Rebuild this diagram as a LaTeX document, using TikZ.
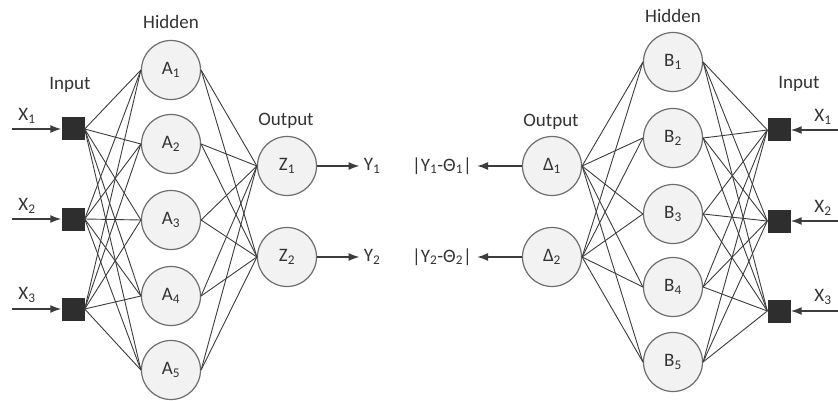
\documentclass[tikz,border=0pt]{standalone}
\usepackage{fontspec}
\setmainfont{Carlito}
\usetikzlibrary{arrows.meta}
\definecolor{linec}{HTML}{3C3C3C}
\definecolor{txtc}{HTML}{333333}
\definecolor{nodef}{HTML}{F2F2F2}
\definecolor{noded}{HTML}{6E6E6E}
\begin{document}
\begin{tikzpicture}[x=1pt,y=-1pt,
  neuron/.style={circle,draw=noded,fill=nodef,line width=1.2pt,minimum size=59pt,inner sep=0pt,text=txtc,font=\fontsize{19}{21}\selectfont},
  inbox/.style={rectangle,fill=black!82,minimum size=23pt,inner sep=0pt},
  lab/.style={text=txtc,font=\fontsize{19}{21}\selectfont,inner sep=0pt},
  conn/.style={draw=linec,line width=0.9pt},
  arr/.style={draw=linec,line width=1.6pt,-{Latex[length=11pt,width=8pt]}}]
\useasboundingbox (0,0) rectangle (838,401);
% ---------- left network ----------
\node[inbox] (i1) at (73,129) {};
\node[inbox] (i2) at (73,219) {};
\node[inbox] (i3) at (73,309) {};
\foreach \k/\y in {1/70,2/144,3/220,4/296,5/370}
  \node[neuron] (a\k) at (171,\y) {A\textsubscript{\k}};
\node[neuron] (z1) at (287,166) {Z\textsubscript{1}};
\node[neuron] (z2) at (287,257) {Z\textsubscript{2}};
\foreach \i in {1,2,3}
  \foreach \k in {1,...,5}
    \draw[conn] (i\i.east) -- (a\k.west);
\foreach \k in {1,...,5}
  \foreach \j in {1,2}
    \draw[conn] (a\k.east) -- (z\j.west);
\coordinate (xs1) at (12,129);
\coordinate (xs2) at (12,219);
\coordinate (xs3) at (12,309);
\foreach \i in {1,2,3} \draw[arr] (xs\i) -- (i\i.west);
\node[lab] (xl1) at (27,116) {X\textsubscript{1}};
\node[lab] (xl2) at (27,206) {X\textsubscript{2}};
\node[lab] (xl3) at (27,295) {X\textsubscript{3}};
\node[lab] (y1) at (372,166) {Y\textsubscript{1}};
\node[lab] (y2) at (372,257) {Y\textsubscript{2}};
\draw[arr] (z1.east) -- ([xshift=-4pt]y1.west);
\draw[arr] (z2.east) -- ([xshift=-4pt]y2.west);
\node[lab] (hl) at (171,22) {Hidden};
\node[lab] (il) at (70,85) {Input};
\node[lab] (ol) at (286,121) {Output};
% ---------- right network ----------
\node[inbox] (j1) at (779,130) {};
\node[inbox] (j2) at (779,221) {};
\node[inbox] (j3) at (779,311) {};
\foreach \k/\y in {1/62,2/138,3/214,4/287,5/362}
  \node[neuron] (b\k) at (673,\y) {B\textsubscript{\k}};
\node[neuron] (d1) at (552,166) {Δ\textsubscript{1}};
\node[neuron] (d2) at (552,257) {Δ\textsubscript{2}};
\foreach \j in {1,2}
  \foreach \k in {1,...,5}
    \draw[conn] (d\j.east) -- (b\k.west);
\foreach \k in {1,...,5}
  \foreach \i in {1,2,3}
    \draw[conn] (b\k.east) -- (j\i.west);
\coordinate (xe1) at (838,130);
\coordinate (xe2) at (838,221);
\coordinate (xe3) at (838,311);
\foreach \i in {1,2,3} \draw[arr] (xe\i) -- (j\i.east);
\node[lab] (rl1) at (823,117) {X\textsubscript{1}};
\node[lab] (rl2) at (823,208) {X\textsubscript{2}};
\node[lab] (rl3) at (823,297) {X\textsubscript{3}};
\node[lab] (e1) at (442,166) {|Y\textsubscript{1}-Θ\textsubscript{1}|};
\node[lab] (e2) at (442,257) {|Y\textsubscript{2}-Θ\textsubscript{2}|};
\draw[arr] (d1.west) -- ([xshift=5pt]e1.east);
\draw[arr] (d2.west) -- ([xshift=5pt]e2.east);
\node[lab] (hr) at (673,16) {Hidden};
\node[lab] (ir) at (799,84) {Input};
\node[lab] (or) at (551,122) {Output};
\end{tikzpicture}
\end{document}
